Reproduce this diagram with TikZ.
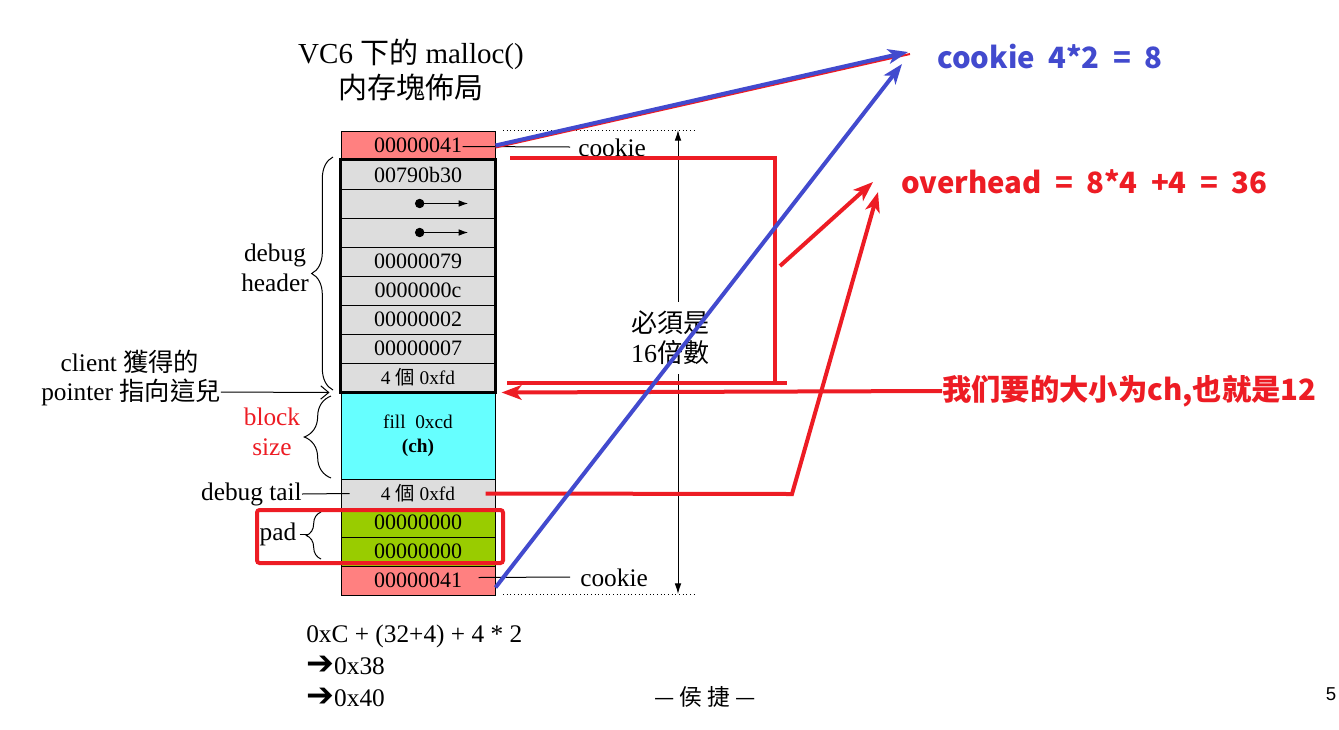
\documentclass[tikz,border=0pt]{standalone}
\usepackage{fontspec}
\setmainfont{Liberation Serif}
\newfontfamily\cjk{Noto Sans CJK TC}
\newfontfamily\cjksc[WordSpace=2]{Noto Sans CJK SC}
\newfontfamily\dejavu{DejaVu Sans}
\newfontfamily\arial{Liberation Sans}
\usetikzlibrary{arrows.meta,decorations.pathreplacing,calc}
\definecolor{ckred}{RGB}{255,128,128}
\definecolor{hdgray}{RGB}{221,221,221}
\definecolor{fillcyan}{RGB}{102,255,255}
\definecolor{padgreen}{RGB}{153,204,0}
\definecolor{mkred}{RGB}{237,28,36}
\definecolor{mkblue}{RGB}{66,74,206}
\newcommand{\zh}[1]{{\cjk #1}}
\newcommand{\thenarrow}{{\dejavu\bfseries\fontsize{25}{25}\selectfont ➔}}
\tikzset{
  cell/.style={draw,line width=.75pt,minimum width=115.5pt,minimum height=21.75pt,inner sep=0pt,font=\fontsize{16.5}{18}\selectfont},
  smallcell/.style={cell,font=\fontsize{14.5}{18}\selectfont},
  lbl/.style={inner sep=0pt,align=center,font=\fontsize{19}{22.5}\selectfont},
  thin/.style={line width=.75pt},
  hot/.style={line width=3pt},
  hotarrow/.style={line width=3pt,-{Stealth[length=15pt,width=11pt,inset=4pt]}},
  note/.style={inner sep=0pt,anchor=west,font=\cjksc\bfseries\fontsize{22}{26}\selectfont},
  curly/.style={decorate,thin,decoration={brace,amplitude=#1}}
}
\begin{document}
\begin{tikzpicture}[x=.75pt,y=-.75pt]
\useasboundingbox (0,0) rectangle (1339,729);
\node[lbl,font=\fontsize{21.75}{26.25}\selectfont] (title) at (411,70) {VC6 \zh{下的} malloc()\\\zh{内存塊佈局}};
\node[cell,fill=ckred] (ck1) at (418,145.5) {00000041};
\node[cell,fill=hdgray] (hd1) at (418,174.5) {00790b30};
\node[cell,fill=hdgray] (hd2) at (418,203.5) {};
\node[cell,fill=hdgray] (hd3) at (418,232.5) {};
\node[cell,fill=hdgray] (hd4) at (418,261.5) {00000079};
\node[cell,fill=hdgray] (hd5) at (418,290.5) {0000000c};
\node[cell,fill=hdgray] (hd6) at (418,319.5) {00000002};
\node[cell,fill=hdgray] (hd7) at (418,348.5) {00000007};
\node[smallcell,fill=hdgray] (hd8) at (418,377.5) {4 \zh{個} 0xfd};
\node[smallcell,fill=fillcyan,minimum height=65.25pt,align=center] (fl) at (418,436) {fill\ \ 0xcd\\\textbf{(ch)}};
\node[smallcell,fill=hdgray] (tl) at (418,493.5) {4 \zh{個} 0xfd};
\node[cell,fill=padgreen] (pd1) at (418,522.5) {00000000};
\node[cell,fill=padgreen] (pd2) at (418,551.5) {00000000};
\node[cell,fill=ckred] (ck2) at (418,580.5) {00000041};
\draw[line width=2.25pt] (hd1.north west) rectangle (hd8.south east);
\draw[thin,{Circle[length=7pt]}-{Latex[length=7pt,width=5pt]}] ($(hd2.center)+(-3,0)$) -- ($(hd2.center)+(50,0)$);
\draw[thin,{Circle[length=7pt]}-{Latex[length=7pt,width=5pt]}] ($(hd3.center)+(-3,0)$) -- ($(hd3.center)+(50,0)$);
\node[lbl,anchor=west] (lc1) at (578,148) {cookie};
\node[lbl,anchor=west] (lc2) at (580,578) {cookie};
\draw[thin] ($(ck1.east)+(-33,1)$) -- ($(lc1.west)+(-8,-1)$);
\draw[thin] ($(ck2.east)+(-17,-3)$) -- ($(lc2.west)+(-10,-1)$);
\draw[thin,dotted] (503,130) -- (695,130) (503,594) -- (695,594);
\draw[thin,{Latex[length=8pt,width=5pt]}-{Latex[length=8pt,width=5pt]}] (678,130) -- (678,594)
  node[pos=.448,xshift=-6pt,fill=white,lbl,inner ysep=7pt,font=\fontsize{19.5}{22.5}\selectfont] (mul) {\zh{必須是}\\16\zh{倍數}};
\node[lbl] (dh) at (275,268) {debug\\header};
\node[lbl,text=mkred] (bs) at (272,432) {block\\size};
\node[lbl] (pad) at (278,534) {pad};
\node[lbl,anchor=east] (dt) at (302,494) {debug tail};
\node[lbl] (cl1) at (130,362) {client \zh{獲得的}};
\node[lbl] (cl2) at (131,392) {pointer \zh{指向這兒}};
\draw[curly=16pt] (333,390) -- (333,157);
\draw[curly=20pt] (331,478) -- (331,396);
\draw[curly=11pt] (321,559) -- (321,512);
\draw[thin] ($(pad.east)+(3,0)$) -- ++(8,0);
\draw[thin] (dt.east) -- ($(tl.west)+(9,0)$);
\draw[thin,-{Straight Barb[length=6pt,width=10pt]}] (cl2.east) -- ($(hd8.south west)+(-11,0)$);
\node[lbl,anchor=west] (f1) at (306,636) {0xC + (32+4) + 4 * 2};
\node[lbl,anchor=west] (f2) at (306,665) {\thenarrow0x38};
\node[lbl,anchor=west] (f3) at (306,697) {\thenarrow0x40};
\node[lbl,font=\cjk\fontsize{17}{20}\selectfont] (au) at (705,697) {— 侯 捷 —};
\node[inner sep=0pt,font=\arial\fontsize{14}{16}\selectfont] (pg) at (1331,694) {5};
\node[note,text=mkblue] (ckn) at (937,57) {cookie 4*2 = 8};
\node[note,text=mkred] (ovn) at (901,182) {overhead = 8*4 +4 = 36};
\node[note,text=mkred] (szn) at (942,391) {我们要的大小为ch,也就是12};
\coordinate (ckTip) at (908,52);
\coordinate (ckTipB) at (902,64);
\coordinate (ovTip) at (873,182);
\coordinate (ovTipB) at (878,192);
\coordinate (hdTop) at (510,158);
\coordinate (hdBot) at (775,383);
\coordinate (hdMid) at (780,266);
\coordinate (tlBend) at (792,494);
\begin{scope}[mkred]
\draw[hot] (hdTop) -| (hdBot);
\draw[hot] (507,383) -- (787,383);
\draw[hotarrow] (hdMid) -- (ovTip);
\draw[hotarrow] (szn.west) -- ($(hd8.south east)+(6,0)$);
\draw[hotarrow] ($(tl.east)+(-10,0)$) -- (tlBend) -- (ovTipB);
\draw[hot,rounded corners=2pt] (257,510) rectangle (503,563);
\draw[line width=1.5pt] ($(ck1.east)+(0,2)$) -- ($(ckTip)+(2,2)$);
\end{scope}
\begin{scope}[mkblue]
\draw[hotarrow] (ck1.east) -- (ckTip);
\draw[hotarrow] ($(ck2.south east)+(0,-8)$) -- (ckTipB);
\end{scope}
\end{tikzpicture}
\end{document}
